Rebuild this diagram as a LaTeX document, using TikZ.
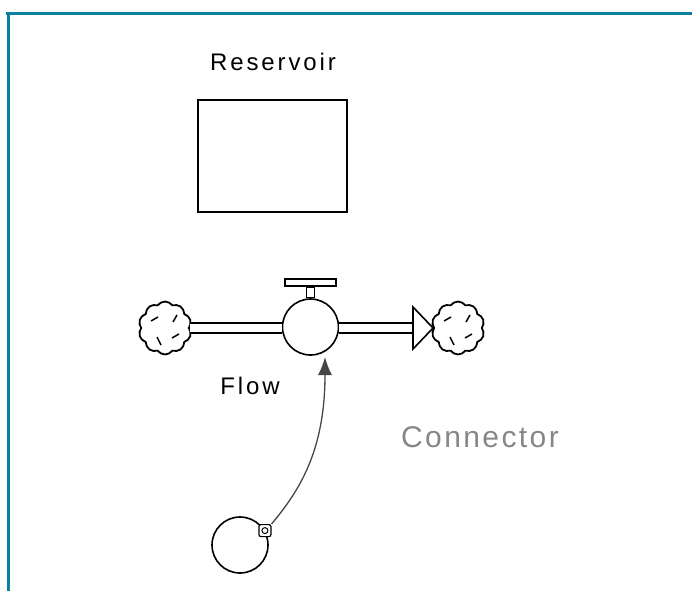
\documentclass[tikz,border=0pt]{standalone}
\usepackage{fontspec}
\setmainfont{Liberation Sans}
\usetikzlibrary{shapes.symbols,arrows.meta,calc}
\definecolor{frameteal}{RGB}{12,128,160}
\definecolor{conngray}{RGB}{70,70,70}
\definecolor{labgray}{RGB}{135,135,135}
\tikzset{
  lab/.style={font=\fontsize{24}{27}\selectfont\addfontfeature{LetterSpace=12}, inner sep=0pt},
  cloudbox/.style={cloud, cloud puffs=10, cloud puff arc=110, aspect=1, draw, line width=1.8pt, minimum width=53pt, minimum height=53pt, inner sep=0pt},
  circ/.style={circle, draw, line width=1.6pt, minimum size=56pt, inner sep=0pt},
  pipe/.style={draw, line width=1.8pt, double, double distance=8pt},
  conn/.style={draw=conngray, line width=1.3pt, -{Latex[length=18pt,width=14pt]}}
}
\begin{document}
\begin{tikzpicture}[x=1pt,y=-1pt]
\useasboundingbox (0,0) rectangle (692,591);
% frame
\draw[frameteal, line width=3pt] (6,13.5) -- (692,13.5);
\draw[frameteal, line width=3pt] (8,12) -- (8,591);
% reservoir
\node[lab] (reslab) at (273,62) {Reservoir};
\node[draw, line width=2pt, minimum width=149pt, minimum height=112pt, inner sep=0pt] (res) at (272.5,156) {};
% clouds
\node[cloudbox] (cl) at (165,328) {};
\node[cloudbox] (cr) at (458,328) {};
\draw[line width=1.5pt] (151,321) -- (158,317) (177,315) -- (173,322) (157,337) -- (161,345) (179,334) -- (172,338);
\draw[line width=1.5pt] (444,321) -- (451,317) (470,315) -- (466,322) (450,337) -- (454,345) (472,334) -- (465,338);
% valve
\node[circ] (valve) at (310.5,327) {};
\node[draw, line width=1.4pt, minimum width=8pt, minimum height=10pt, inner sep=0pt, anchor=south] (stem) at (valve.north) {};
\node[draw, line width=1.6pt, minimum width=51pt, minimum height=7pt, inner sep=0pt, anchor=south] (bar) at (stem.north) {};
% pipes
\coordinate (ah) at (413,328);
\draw[pipe] (cl.center -| cl.east) -- (cl.center -| valve.west);
\draw[pipe] (cl.center -| valve.east) -- (ah);
\draw[line width=1.6pt, fill=white] ($(ah)+(0,-21)$) -- (cr.center -| cr.west) -- ($(ah)+(0,21)$) -- cycle;
\node[lab] (flowlab) at (250,386) {Flow};
% converter
\node[circ] (src) at (240,545) {};
\node[draw, line width=1.2pt, rounded corners=2pt, minimum size=12pt, inner sep=0pt, fill=white] (mk) at (src.30) {};
\node[circle, draw, line width=1pt, minimum size=6pt, inner sep=0pt] (mkin) at (mk.center) {};
\draw[conn] (mk.north east) .. controls (300,490) and (325,450) .. (325,357);
\node[inner sep=0pt, text=labgray, font=\fontsize{30}{34}\selectfont\addfontfeature{LetterSpace=8}] (connlab) at (480,437) {Connector};
\end{tikzpicture}
\end{document}
